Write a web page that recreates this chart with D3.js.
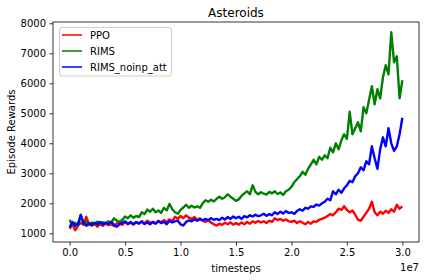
<!DOCTYPE html>
<html><head><meta charset="utf-8">
<script src="https://cdn.jsdelivr.net/npm/d3@7"></script>
<style>
html,body{margin:0;padding:0;background:#fff;}
svg{display:block;font-family:"DejaVu Sans",sans-serif;}
</style></head>
<body><svg id="c" width="424" height="280"></svg>
<script>
// x samples in units of 1e7 timesteps (step 0.025e7)
const steps = d3.range(0, 121).map(i => i * 0.025);
const seriesNames = ["PPO", "RIMS", "RIMS_noinp_att"];
const seriesColors = ["#ff0000", "#008000", "#0000ff"];
const ppo = [1150,1300,1100,1250,1350,1280,1550,1300,1250,1320,1220,1300,1250,1330,1270,1300,1240,1330,1350,1280,
1370,1300,1350,1290,1380,1320,1400,1330,1420,1350,1380,1330,1420,1370,1440,1380,1460,1400,1550,1480,
1580,1500,1600,1520,1480,1540,1450,1500,1420,1380,1440,1360,1300,1260,1320,1280,1350,1300,1360,1290,
1340,1290,1360,1300,1380,1320,1400,1350,1410,1360,1400,1340,1420,1380,1500,1440,1480,1420,1460,1400,
1380,1420,1340,1400,1350,1300,1380,1320,1400,1380,1450,1480,1520,1580,1640,1600,1700,1820,1780,1900,
1780,1700,1760,1620,1450,1420,1550,1680,1820,2050,1700,1600,1720,1650,1750,1680,1800,1720,1950,1820,1900];
const rims = [1450,1250,1350,1280,1620,1300,1380,1290,1360,1300,1390,1310,1370,1330,1400,1360,1500,1420,1380,1450,
1560,1500,1600,1520,1580,1540,1700,1640,1790,1720,1820,1700,1760,1680,1850,1760,1980,1800,1700,1650,
1780,1860,1950,1850,1920,1860,1900,1850,2000,2100,2050,2120,2060,2150,2220,2150,2200,2300,2220,2150,
2080,2130,2250,2330,2400,2300,2600,2380,2300,2370,2320,2290,2380,2330,2400,2310,2360,2280,2400,2450,
2550,2700,2800,2900,3050,2950,3150,3300,3450,3300,3550,3450,3600,3500,3850,3700,4000,3800,4100,4300,
4150,5050,4300,4500,4700,4400,5200,5000,5450,5900,5300,5800,5500,6200,6600,6300,7700,6700,6900,5500,6100];
const rimsNoinp = [1200,1380,1250,1300,1600,1350,1250,1330,1280,1350,1300,1380,1290,1350,1310,1380,1280,1220,1300,1350,
1400,1320,1380,1300,1370,1330,1390,1310,1360,1300,1380,1320,1400,1340,1380,1300,1420,1360,1400,1420,
1300,1260,1380,1430,1400,1460,1420,1470,1430,1480,1440,1500,1450,1480,1440,1520,1460,1540,1480,1560,
1500,1550,1480,1570,1530,1600,1560,1620,1570,1600,1650,1580,1640,1600,1700,1640,1720,1660,1740,1680,
1700,1650,1740,1800,1750,1850,1820,1900,1880,1960,1920,2000,2050,2150,2100,2400,2300,2450,2350,2500,
2600,2750,2700,2900,3000,3200,3100,3400,3300,3900,3500,3150,3800,4200,3900,4500,4000,3750,3900,4300,4850];
const xTicks = [0.0, 0.5, 1.0, 1.5, 2.0, 2.5, 3.0];
const yTicks = [1000, 2000, 3000, 4000, 5000, 6000, 7000, 8000];

const svg = d3.select("#c");
const L = 53, T = 22, R = 419, B = 242;
const x = d3.scaleLinear().domain([-0.15, 3.15]).range([L, R]);
const y = d3.scaleLinear().domain([710, 8043]).range([B, T]);

const data = [ppo, rims, rimsNoinp];
const line = d3.line().x((d, i) => x(steps[i])).y(d => y(d));
const g = svg.append("g");
data.forEach((s, k) => {
  g.append("path").datum(s).attr("d", line).attr("fill", "none")
    .attr("stroke", seriesColors[k]).attr("stroke-width", 2.4).attr("stroke-linejoin", "round");
});

// axes
const xa = svg.append("g").attr("transform", `translate(0,${B})`)
  .call(d3.axisBottom(x).tickValues(xTicks).tickFormat(d3.format(".1f")).tickSize(3.5).tickPadding(3.5));
const ya = svg.append("g").attr("transform", `translate(${L},0)`)
  .call(d3.axisLeft(y).tickValues(yTicks).tickFormat(d3.format("d")).tickSize(3.5).tickPadding(3.5));
[xa, ya].forEach(a => {
  a.select(".domain").remove();
  a.selectAll("text").attr("font-size", 10).attr("fill", "#000").attr("font-family", "DejaVu Sans");
  a.selectAll("line").attr("stroke", "#000").attr("stroke-width", 0.8);
});
svg.append("rect").attr("x", L).attr("y", T).attr("width", R - L).attr("height", B - T)
  .attr("fill", "none").attr("stroke", "#000").attr("stroke-width", 0.8);

svg.append("text").attr("x", (L + R) / 2).attr("y", 17).attr("text-anchor", "middle")
  .attr("font-size", 12).text("Asteroids");
svg.append("text").attr("x", (L + R) / 2).attr("y", 272).attr("text-anchor", "middle")
  .attr("font-size", 10).text("timesteps");
svg.append("text").attr("transform", `translate(15,${(T + B) / 2}) rotate(-90)`).attr("text-anchor", "middle")
  .attr("font-size", 10).text("Episode Rewards");
svg.append("text").attr("x", R).attr("y", 271).attr("text-anchor", "end")
  .attr("font-size", 10).text("1e7");

// legend
const lg = svg.append("g");
lg.append("rect").attr("x", 59.5).attr("y", 27.5).attr("width", 112).attr("height", 48.5).attr("rx", 2.5)
  .attr("fill", "#fff").attr("fill-opacity", 0.8).attr("stroke", "#ccc").attr("stroke-width", 1);
seriesNames.forEach((n, k) => {
  const yy = 35 + k * 16;
  lg.append("line").attr("x1", 62).attr("x2", 82).attr("y1", yy).attr("y2", yy)
    .attr("stroke", seriesColors[k]).attr("stroke-width", 1.5);
  lg.append("text").attr("x", 90).attr("y", yy + 3.5).attr("font-size", 10).text(n);
});
</script></body></html>
